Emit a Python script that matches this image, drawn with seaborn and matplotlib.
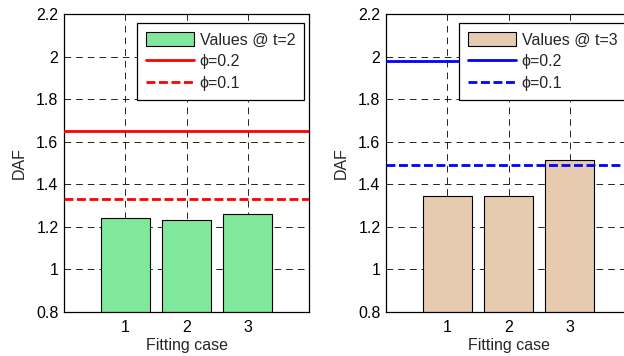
import matplotlib
matplotlib.use('Agg')
import matplotlib.pyplot as plt
from matplotlib.lines import Line2D
from matplotlib.patches import Patch
import pandas as pd
import seaborn as sns

sns.set_style('white')
plt.rcParams['font.family'] = ['Liberation Sans', 'DejaVu Sans']

cases = [1, 2, 3]
daf_t2 = [1.243, 1.231, 1.260]
daf_t3 = [1.346, 1.346, 1.515]
phi_lines_t2 = {'0.2': 1.650, '0.1': 1.329}
phi_lines_t3 = {'0.2': 1.977, '0.1': 1.489}
yticks = [0.8, 1.0, 1.2, 1.4, 1.6, 1.8, 2.0, 2.2]
ytick_labels = ['0.8', '1', '1.2', '1.4', '1.6', '1.8', '2', '2.2']

panels = [
    (daf_t2, phi_lines_t2, '#80e89a', 'red', 'Values @ t=2', [64 / 624, 44 / 356, 245 / 624, 298 / 356]),
    (daf_t3, phi_lines_t3, '#e6cbb1', 'blue', 'Values @ t=3', [386 / 624, 44 / 356, 245 / 624, 298 / 356]),
]
dash = (0, (3.2, 1.3))
fs = 11.5

fig = plt.figure(figsize=(6.24, 3.56), dpi=100)
for vals, phis, bar_col, line_col, lab, pos in panels:
    ax = fig.add_axes(pos)
    df = pd.DataFrame({'case': cases, 'DAF': vals})
    sns.barplot(data=df, x='case', y='DAF', native_scale=True, color=bar_col,
                saturation=1, width=0.8, edgecolor='black', linewidth=0.8, ax=ax, zorder=2)
    ax.axhline(phis['0.2'], color=line_col, lw=2, zorder=3)
    ax.axhline(phis['0.1'], color=line_col, lw=2, ls=dash, zorder=3)
    ax.set_xlim(0, 4)
    ax.set_ylim(0.8, 2.2)
    ax.set_xticks(cases)
    ax.set_xticklabels([str(c) for c in cases])
    ax.set_yticks(yticks)
    ax.set_yticklabels(ytick_labels)
    ax.grid(True, color='black', ls=(0, (8, 6)), lw=0.6, zorder=0)
    ax.set_axisbelow(True)
    ax.tick_params(direction='in', length=4, labelsize=fs, colors='black')
    ax.tick_params(axis='x', pad=6)
    ax.tick_params(axis='y', pad=4)
    for sp in ax.spines.values():
        sp.set_color('black')
        sp.set_linewidth(0.9)
    ax.set_xlabel('Fitting case', fontsize=fs, labelpad=2)
    ax.set_ylabel('DAF', fontsize=fs, labelpad=7)
    handles = [Patch(facecolor=bar_col, edgecolor='black', lw=0.8),
               Line2D([], [], color=line_col, lw=2),
               Line2D([], [], color=line_col, lw=2, ls=dash)]
    leg = ax.legend(handles, [lab, '\u03d5=0.2', '\u03d5=0.1'], loc='upper right',
                    bbox_to_anchor=(1 - 5 / 245, 1 - 9 / 298), borderaxespad=0,
                    fontsize=fs, frameon=True, fancybox=False, framealpha=1,
                    edgecolor='black', handlelength=3.0, handleheight=1.0,
                    handletextpad=0.35, borderpad=0.55, labelspacing=0.4)
    leg.get_frame().set_linewidth(0.9)

fig.savefig('out.png', dpi=100)
